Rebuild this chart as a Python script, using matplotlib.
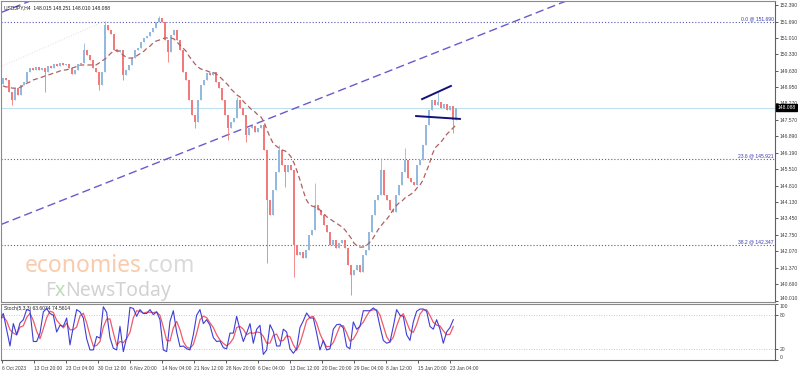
import numpy as np
import pandas as pd
import matplotlib
matplotlib.use("Agg")
import matplotlib.pyplot as plt
import matplotlib.transforms as mtransforms

plt.rcParams['font.family'] = ['Liberation Sans', 'DejaVu Sans']

# ---------------- data ----------------
symbol_title = "USDJPY,H4  148.015 148.251 148.010 148.088"
first_open = 149.10
closes = [149.33, 149.25, 148.75, 148.41, 148.91, 148.62, 149.04, 149.17, 149.58, 149.75,
          149.67, 149.79, 149.67, 149.75, 149.58, 149.84, 149.75, 149.92, 149.84, 149.96,
          149.88, 149.92, 149.75, 149.50, 149.67, 149.92, 149.96, 150.51, 150.30, 150.09,
          149.75, 149.58, 149.04, 149.58, 151.55, 151.34, 151.18, 150.51, 150.42, 150.51,
          149.46, 149.67, 149.88, 150.17, 150.51, 150.59, 150.84, 151.01, 151.09, 151.26,
          151.43, 151.68, 151.85, 151.68, 150.92, 150.42, 151.13, 151.34, 150.92, 150.51,
          149.58, 149.25, 148.41, 147.78, 147.49, 148.41, 149.04, 149.25, 149.54, 149.46,
          149.58, 149.17, 148.91, 148.41, 147.78, 147.24, 147.49, 147.66, 148.41, 148.08,
          147.78, 146.94, 147.24, 147.32, 147.07, 147.24, 147.36, 146.32, 144.22, 143.60,
          144.64, 145.40, 146.32, 145.69, 145.40, 145.69, 145.48, 142.34, 141.92, 142.04,
          141.79, 142.13, 142.76, 142.97, 144.01, 143.80, 143.60, 143.18, 142.88, 142.34,
          142.55, 142.21, 142.42, 142.55, 142.21, 141.50, 141.08, 141.29, 141.50, 141.21,
          141.92, 142.13, 142.88, 143.60, 144.22, 144.43, 145.48, 144.43, 144.22, 143.80,
          143.72, 144.43, 144.85, 145.40, 145.90, 145.14, 144.98, 144.85, 145.69, 145.90,
          146.53, 147.36, 147.99, 148.41, 148.20, 148.33, 148.08, 148.24, 147.99, 148.16,
          147.57, 148.09]
# wick extremes (bar index, price)
spike_highs = {27: 150.80, 34: 151.72, 52: 151.93, 78: 148.54, 92: 146.53,
               104: 144.94, 126: 145.98, 134: 146.40, 145: 148.75}
spike_lows = {3: 148.20, 14: 148.75, 32: 148.83, 40: 149.25, 55: 150.00, 64: 147.24,
              75: 146.74, 81: 146.65, 88: 141.58, 94: 144.77, 97: 141.00, 116: 140.24,
              150: 147.03}

ma_values = [149.00, 148.96, 148.96, 148.91, 148.91, 148.91, 148.96, 149.04, 149.12, 149.17,
             149.25, 149.29, 149.33, 149.37, 149.42, 149.46, 149.50, 149.54, 149.58, 149.63,
             149.67, 149.67, 149.71, 149.75, 149.79, 149.84, 149.88, 149.88, 149.88, 149.88,
             149.88, 149.88, 149.96, 150.05, 150.13, 150.25, 150.38, 150.46, 150.51, 150.42,
             150.30, 150.21, 150.17, 150.17, 150.21, 150.30, 150.38, 150.46, 150.59, 150.67,
             150.80, 150.88, 150.92, 150.97, 151.01, 151.01, 151.01, 150.97, 150.84, 150.71,
             150.59, 150.46, 150.25, 150.09, 149.92, 149.79, 149.71, 149.67, 149.63, 149.58,
             149.58, 149.50, 149.42, 149.29, 149.17, 149.04, 148.87, 148.75, 148.62, 148.54,
             148.37, 148.24, 148.12, 147.99, 147.91, 147.78, 147.70, 147.49, 147.16, 146.86,
             146.61, 146.49, 146.40, 146.32, 146.28, 146.19, 146.03, 145.77, 145.44, 145.06,
             144.64, 144.26, 144.05, 143.97, 143.93, 143.89, 143.76, 143.64, 143.51, 143.43,
             143.34, 143.26, 143.18, 143.09, 142.97, 142.80, 142.63, 142.42, 142.30, 142.25,
             142.25, 142.30, 142.42, 142.55, 142.76, 142.97, 143.14, 143.30, 143.43, 143.60,
             143.81, 143.97, 144.10, 144.18, 144.31, 144.39, 144.47, 144.56, 144.73, 144.85,
             145.06, 145.40, 145.69, 146.11, 146.40, 146.53, 146.65, 146.82, 146.99, 147.11,
             147.24, 147.36]

stoch_k = [72, 83, 54, 25, 65, 45, 66, 72, 90, 88, 33, 33, 48, 86, 92, 83, 80, 50, 62, 60,
           75, 27, 60, 90, 86, 75, 38, 18, 18, 42, 39, 95, 85, 40, 21, 18, 60, 15, 40, 94,
           92, 78, 90, 83, 83, 90, 81, 86, 72, 18, 15, 69, 88, 50, 24, 25, 20, 18, 45, 80,
           90, 65, 72, 62, 40, 33, 34, 22, 20, 48, 48, 78, 54, 33, 48, 65, 30, 55, 62, 10,
           18, 63, 51, 25, 25, 55, 50, 20, 12, 20, 58, 70, 84, 75, 75, 48, 18, 35, 18, 20,
           55, 63, 64, 57, 24, 20, 68, 55, 60, 88, 88, 88, 93, 88, 60, 35, 30, 32, 60, 90,
           80, 78, 45, 35, 68, 87, 91, 91, 87, 60, 55, 72, 55, 30, 50, 58, 72]
stoch_title = "Stoch(5,3,3) 63.6034 74.5614"

price_ticks = [152.390, 151.690, 151.010, 150.330, 149.630, 148.950, 148.270, 147.570,
               146.890, 146.190, 145.510, 144.810, 144.130, 143.450, 142.750, 142.070,
               141.370, 140.690, 140.010]
fib_levels = [151.690, 145.921, 142.347]
fib_labels = ["0.0 @ 151.690", "23.6 @ 145.921", "38.2 @ 142.347"]
last_price = 148.088
date_labels = ["6 Oct 2023", "13 Oct 20:00", "23 Oct 04:00", "30 Oct 12:00", "6 Nov 20:00",
               "14 Nov 04:00", "21 Nov 12:00", "28 Nov 20:00", "6 Dec 04:00", "13 Dec 12:00",
               "20 Dec 20:00", "29 Dec 04:00", "8 Jan 12:00", "15 Jan 20:00", "23 Jan 04:00"]

# trend lines (bar, price) anchors
channel_a = ((-1.0, 143.18), (184.3, 152.39))
channel_b_start = (-1.0, 152.06)
faint_line = ((-1.0, 149.79), (34.0, 151.72))
tri_upper = ((139.7, 148.45), (149.3, 149.00))
tri_lower = ((137.7, 147.74), (152.3, 147.62))

# ---------------- figure ----------------
W, H = 798, 371
fig = plt.figure(figsize=(W / 100, H / 100), dpi=100)
fig.patch.set_facecolor('white')
ax = fig.add_axes([1 / W, 1 - 302 / H, 774 / W, 301 / H])
ax2 = fig.add_axes([1 / W, 1 - 360 / H, 774 / W, 56 / H], sharex=ax)

n = len(closes)
idx = np.arange(n)
c = np.array(closes)
o = np.concatenate([[first_open], c[:-1]])
hi = np.maximum(o, c)
lo = np.minimum(o, c)
for k, v in spike_highs.items():
    hi[k] = max(hi[k], v)
for k, v in spike_lows.items():
    lo[k] = min(lo[k], v)
up = c >= o
col_up, col_dn = '#94b9de', '#f27a7a'
colors = np.where(up, col_up, col_dn)

ax.vlines(idx, lo, hi, colors=colors, lw=0.6, zorder=3)
ax.bar(idx, np.maximum(np.abs(c - o), 0.02), bottom=np.minimum(o, c),
       width=0.55, color=colors, edgecolor='none', zorder=3)

ax.plot(idx, ma_values, color='#b06060', lw=0.9, ls=(0, (4, 2.5)), zorder=4)

# fib levels
for lv, lb in zip(fib_levels, fib_labels):
    ax.axhline(lv, color='#5a5ab0', lw=0.8, ls=(0, (1, 1.8)), zorder=2)
    ax.text(256.9, lv + 0.03, lb, ha='right', va='bottom', fontsize=3.6, color='#3a3ab0')

# current price line
ax.axhline(last_price, color='#bfe0ee', lw=0.8, zorder=1)

# channel lines
ax.axline(channel_a[0], channel_a[1], color='#6a5acd', lw=1.0, ls=(0, (6, 3)), zorder=2)
slope = (channel_a[1][1] - channel_a[0][1]) / (channel_a[1][0] - channel_a[0][0])
ax.axline(channel_b_start, slope=slope, color='#6a5acd', lw=1.0, ls=(0, (6, 3)), zorder=2)
ax.plot([faint_line[0][0], faint_line[1][0]], [faint_line[0][1], faint_line[1][1]],
        color='#e6cccc', lw=0.6, ls=(0, (1, 2)), zorder=2)
for seg in (tri_upper, tri_lower):
    ax.plot([seg[0][0], seg[1][0]], [seg[0][1], seg[1][1]], color='#12127a', lw=1.4, zorder=5)

# axes limits
ax.set_xlim(-2 / 3, 257.33)
ax.set_ylim(139.95, 152.56)
ax.yaxis.tick_right()
ax.set_yticks(price_ticks)
ax.set_yticklabels([f"{t:.3f}" for t in price_ticks])
ax.tick_params(axis='y', direction='out', length=2, width=0.6, colors='#404040',
               labelsize=3.6, pad=1.5)
ax.tick_params(axis='x', bottom=False, labelbottom=False)
for s in ax.spines.values():
    s.set_color('#8a8a8a')
    s.set_linewidth(0.8)
ax.spines['right'].set_color('#606060')
ylabs = ax.get_yticklabels()
ylabs[-1].set_va('bottom')

# price label box
tr = mtransforms.blended_transform_factory(ax.transAxes, ax.transData)
ax.text(1.003, last_price, f"{last_price:.3f}", transform=tr, ha='left', va='center',
        fontsize=3.6, color='white',
        bbox=dict(boxstyle='square,pad=0.25', fc='black', ec='black'), zorder=10)

ax.text(3 / 774, 0.985, symbol_title, transform=ax.transAxes, ha='left', va='top',
        fontsize=3.6, color='#202020')

# watermark
t1 = fig.text(25 / W, 1 - 272 / H, "economies", fontsize=16.5, color='#f9cbad',
              family='Noto Sans', va='baseline')
fig.canvas.draw()
bb = t1.get_window_extent()
fig.text(bb.x1 / W, 1 - 272 / H, ".com", fontsize=16.5, color='#dadada',
         family='Noto Sans', va='baseline')
t2 = fig.text(45 / W, 1 - 296 / H, "F", fontsize=14, color='#d2d2d2',
              family='Noto Sans', va='baseline')
fig.canvas.draw()
bb2 = t2.get_window_extent()
t3 = fig.text(bb2.x1 / W, 1 - 296 / H, "x", fontsize=14, color='#bcdcb4',
              family='Noto Sans', va='baseline')
fig.canvas.draw()
bb3 = t3.get_window_extent()
fig.text(bb3.x1 / W, 1 - 296 / H, "NewsToday", fontsize=14, color='#d2d2d2',
         family='Noto Sans', va='baseline')

# ---------------- stochastic ----------------
sk = pd.Series(stoch_k, dtype=float)
sd = sk.rolling(3, min_periods=1).mean()
sx = np.linspace(-1.0, 150.1, len(stoch_k))
ax2.plot(sx, sd, color='#f05a6a', lw=0.9, zorder=3)
ax2.plot(sx, sk, color='#3e3ed6', lw=0.8, zorder=4)
for lv in (80, 20):
    ax2.axhline(lv, color='#b8b8b8', lw=0.6, ls=(0, (1, 2)))
ax2.set_ylim(0, 100)
ax2.yaxis.tick_right()
ax2.set_yticks([100, 80, 20, 0])
ax2.set_yticklabels(['100', '80', '20', '0'])
ax2.tick_params(axis='y', direction='out', length=2, width=0.6, colors='#404040',
                labelsize=3.6, pad=1.5)
slabs = ax2.get_yticklabels()
slabs[0].set_va('top')
slabs[-1].set_va('bottom')
for s in ax2.spines.values():
    s.set_color('#8a8a8a')
    s.set_linewidth(0.8)
ax2.spines['right'].set_color('#606060')
ax2.spines['bottom'].set_color('#606060')
ax2.text(3 / 774, 0.96, stoch_title, transform=ax2.transAxes, ha='left', va='top',
         fontsize=3.6, color='#202020')

tick_pos = [-0.43 + k * 32 / 3 for k in range(len(date_labels))]
ax2.set_xticks(tick_pos)
ax2.set_xticklabels(date_labels, ha='left')
ax2.tick_params(axis='x', direction='out', length=2.5, width=0.6, colors='#404040',
                labelsize=3.5, pad=1.5)
ax2.set_xlim(-2 / 3, 257.33)

fig.savefig('out.png', dpi=100, facecolor='white')
